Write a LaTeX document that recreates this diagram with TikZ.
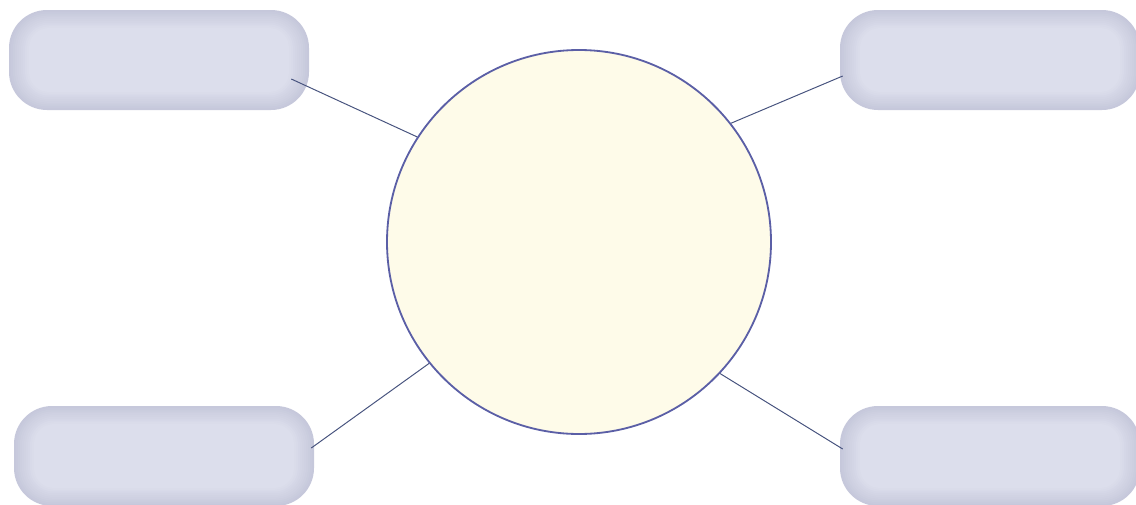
\documentclass[tikz,border=0pt]{standalone}
\usepackage{xcolor}
\usetikzlibrary{calc}
\definecolor{boxedge}{HTML}{C6C8DB}
\definecolor{boxface}{HTML}{DCDEEC}
\definecolor{hubfill}{HTML}{FEFBE9}
\definecolor{hubline}{HTML}{5B5FA6}
\definecolor{linkline}{HTML}{47537E}
\begin{document}
\begin{tikzpicture}[
    box/.style={rounded corners=0.95cm, fill=boxedge, minimum width=7.5cm, minimum height=2.5cm, inner sep=0pt,
      path picture={
        \foreach \i [evaluate=\i as \p using int(\i*10)] in {1,...,10}
          \fill[boxface!\p!boxedge, rounded corners=0.95cm-\i*0.045cm]
            ([shift={(\i*0.05,\i*0.045)}]path picture bounding box.south west) rectangle
            ([shift={(-\i*0.05,-\i*0.045)}]path picture bounding box.north east);
      }},
    hub/.style={circle, draw=hubline, line width=1.3pt, fill=hubfill, minimum size=9.6cm, inner sep=0pt},
    link/.style={draw=linkline, line width=0.7pt}
]
\useasboundingbox (0,0) rectangle (28.4,12.6);
\node[hub] (c) at (14.475,6.55) {};
\node[box] (tl) at (3.975,11.1) {};
\node[box] (tr) at (24.75,11.1) {};
\node[box] (bl) at (4.1,1.2) {};
\node[box] (br) at (24.75,1.2) {};
\draw[link] (c.147) -- ([shift={(-0.45,-0.475)}]tl.east);
\draw[link] (c.38) -- ([shift={(0.075,-0.4)}]tr.west);
\draw[link] (c.219) -- ([shift={(-0.075,0.2)}]bl.east);
\draw[link] (c.-43) -- ([shift={(0.075,0.175)}]br.west);
\end{tikzpicture}
\end{document}
